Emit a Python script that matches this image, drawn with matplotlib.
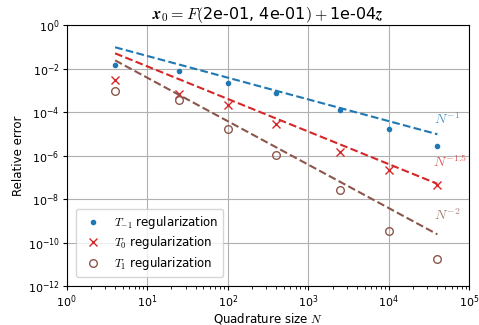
import numpy as np
import matplotlib
matplotlib.use("Agg")
import matplotlib.pyplot as plt

plt.rcParams['mathtext.fontset'] = 'cm'
plt.rcParams['font.family'] = ['DejaVu Sans']
plt.rcParams['font.size'] = 8

# data
N = [4, 25, 100, 400, 2500, 10000, 40000]
err_tm1 = [1.45e-2, 7.9e-3, 2.1e-3, 7.6e-4, 1.3e-4, 1.7e-5, 2.7e-6]
err_t0 = [3.0e-3, 7.1e-4, 2.1e-4, 2.9e-5, 1.5e-6, 2.1e-7, 4.2e-8]
err_t1 = [9.1e-4, 3.7e-4, 1.7e-5, 1.1e-6, 2.5e-8, 3.3e-10, 1.7e-11]

# reference slopes  C * N^-p
rates = [1, 1.5, 2]
rate_consts = [0.38, 0.40, 0.38]
rate_labels = [r'$N^{-1}$', r'$N^{-1.5}$', r'$N^{-2}$']

colors = ['tab:blue', 'tab:red', 'tab:brown']

fig, ax = plt.subplots(figsize=(4.79, 3.25), dpi=100)

ax.loglog(N, err_tm1, '.', color=colors[0], ms=6, label=r'$T_{-1}$ regularization')
ax.loglog(N, err_t0, 'x', color=colors[1], ms=5.5, mew=1.0, label=r'$T_0$ regularization')
ax.loglog(N, err_t1, 'o', color=colors[2], ms=5.5, mfc='none', mew=1.0, label=r'$T_1$ regularization')

Nn = np.array(N, dtype=float)
offsets = [(7, 5), (9, 10), (7, 8)]
for p, c, lab, col, off in zip(rates, rate_consts, rate_labels, colors, offsets):
    ref = c * Nn ** (-p)
    ax.loglog(Nn, ref, '--', color=col, lw=1.5)
    ax.annotate(lab, xy=(Nn[-1], ref[-1]), xytext=off, textcoords='offset points',
                ha='center', va='bottom', color=col, alpha=0.75, fontsize=10)

ax.set_xlim(1, 1e5)
ax.set_ylim(1e-12, 1)
ax.set_yticks([10.0 ** k for k in range(-12, 1, 2)])
ax.yaxis.set_minor_locator(matplotlib.ticker.NullLocator())
ax.tick_params(labelsize=8, length=3, pad=2)
ax.tick_params(which='minor', length=1.8)
ax.grid(True, which='major', color='#b0b0b0', lw=0.8)
ax.set_xlabel(r'Quadrature size $N$', fontsize=8.5, labelpad=1)
ax.set_ylabel('Relative error', fontsize=8.5, labelpad=2)
ax.set_title(r'$\boldsymbol{x}_0 = F($2e-01, 4e-01$) + $1e-04$\boldsymbol{z}$', fontsize=11.5, pad=4)
ax.legend(loc='lower left', fontsize=8.5, borderaxespad=0.8, labelspacing=0.3)

fig.subplots_adjust(left=0.139, right=0.98, top=0.923, bottom=0.12)
fig.savefig('out.png', dpi=100)
